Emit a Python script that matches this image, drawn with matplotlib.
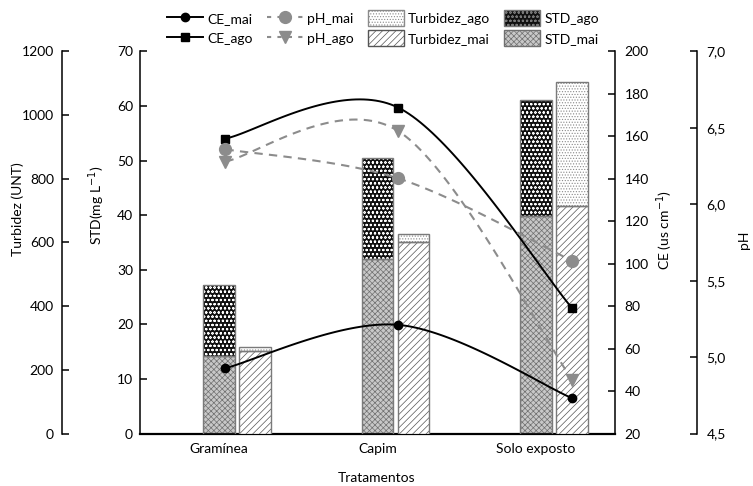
import numpy as np
import matplotlib
matplotlib.use('Agg')
import matplotlib.pyplot as plt
from matplotlib.patches import Patch
from matplotlib.lines import Line2D
from matplotlib.ticker import FuncFormatter

plt.rcParams['font.family'] = ['Lato', 'DejaVu Sans']
plt.rcParams['font.size'] = 10
plt.rcParams['hatch.linewidth'] = 0.5

# ── DATA ──
tratamentos = ['Gramínea', 'Capim', 'Solo exposto']
std_mai = [14.2, 32.0, 39.8]
std_ago = [13.0, 18.5, 21.4]        # stacked on top of std_mai
turb_mai = [259, 603, 715]
turb_ago = [14, 24, 390]            # stacked on top of turb_mai
ce_mai = [50.8, 71.2, 36.6]
ce_ago = [159, 173.6, 79]
ph_mai = [6.36, 6.17, 5.63]
ph_ago = [6.28, 6.48, 4.85]
line_x = [0.04, 1.13, 2.23]         # x position of the line markers

x = np.arange(len(tratamentos))
w = 0.2

W, H = 753, 486
fig = plt.figure(figsize=(W / 100, H / 100), dpi=100)
left, right, bot, top = 140, 615, 433.5, 51.5
ax = fig.add_axes([left / W, 1 - bot / H, (right - left) / W, (bot - top) / H])
ax_t = ax.twinx()
ax_ce = ax.twinx()
ax_ph = ax.twinx()

ax.set_xlim(-0.5, 2.5)
ax.set_ylim(0, 70)
ax_t.set_ylim(0, 1200)
ax_ce.set_ylim(20, 200)
ax_ph.set_ylim(4.5, 7.0)

edge = '#7a7a7a'


def hbar(a, xs, h, b, fc, hc, hatch):
    a.bar(xs, h, w, bottom=b, color=fc, edgecolor=hc, hatch=hatch,
          linewidth=0, zorder=2)
    a.bar(xs, h, w, bottom=b, fill=False, edgecolor=edge,
          linewidth=1, zorder=3)


# STD bars (stacked)
hbar(ax, x, std_mai, 0, '#c8c8c8', '#707070', 'xxxxxx')
hbar(ax, x, std_ago, std_mai, '#111111', 'white', 'oooo')

# Turbidez bars (stacked)
hbar(ax_t, x + 0.228, turb_mai, 0, 'white', '#555555', '/////')
hbar(ax_t, x + 0.228, turb_ago, turb_mai, 'white', '#8a8a8a', '......')


def smooth(a, xs, ys, n=50):
    # bezier smoothing through the points, computed in display space
    pts = a.transData.transform(np.column_stack([xs, ys]))
    out = []
    t = np.linspace(0, 1, n)[:, None]
    for i in range(len(pts) - 1):
        p0, p1 = pts[i], pts[i + 1]
        pm = pts[i - 1] if i > 0 else pts[i]
        pp = pts[i + 2] if i + 2 < len(pts) else pts[i + 1]
        c1 = p0 + (p1 - pm) / 6
        c2 = p1 - (pp - p0) / 6
        seg = ((1 - t) ** 3 * p0 + 3 * (1 - t) ** 2 * t * c1
               + 3 * (1 - t) * t ** 2 * c2 + t ** 3 * p1)
        out.append(seg if i == 0 else seg[1:])
    c = a.transData.inverted().transform(np.vstack(out))
    return c[:, 0], c[:, 1]


gray = '#8c8c8c'
# pH lines
for vals, mk in [(ph_mai, 'o'), (ph_ago, 'v')]:
    sx, sy = smooth(ax_ph, line_x, vals)
    ax_ph.plot(sx, sy, color=gray, lw=1.5, ls=(0, (4, 3)), zorder=4)
    ax_ph.plot(line_x, vals, ls='none', marker=mk, ms=8.5,
               color=gray, zorder=5)

# CE lines
for vals, mk, ms in [(ce_mai, 'o', 6), (ce_ago, 's', 6)]:
    sx, sy = smooth(ax_ce, line_x, vals)
    ax_ce.plot(sx, sy, color='black', lw=1.4, zorder=4)
    ax_ce.plot(line_x, vals, ls='none', marker=mk, ms=ms,
               color='black', zorder=5)

# ── AXES STYLING ──
for a in (ax, ax_t, ax_ce, ax_ph):
    for s in a.spines.values():
        s.set_visible(False)
        s.set_linewidth(1.1)

ax.spines['left'].set_visible(True)
ax.spines['bottom'].set_visible(True)
ax.spines['bottom'].set_linewidth(1.6)
ax.set_yticks(np.arange(0, 71, 10))
ax.tick_params(axis='y', direction='in', length=5, width=1.1, pad=5)
ax.set_xticks(x)
ax.set_xticklabels(tratamentos)
ax.tick_params(axis='x', direction='in', length=5, width=1.1, pad=7)

ax_t.spines['left'].set_visible(True)
ax_t.spines['left'].set_position(('outward', 56))
ax_t.yaxis.set_ticks_position('left')
ax_t.yaxis.set_label_position('left')
ax_t.set_yticks(np.arange(0, 1201, 200))
ax_t.tick_params(axis='y', direction='in', length=5, width=1.1, pad=6)

ax_ce.spines['right'].set_visible(True)
ax_ce.set_yticks(np.arange(20, 201, 20))
ax_ce.tick_params(axis='y', direction='in', length=5, width=1.1, pad=7)

ax_ph.spines['right'].set_visible(True)
ax_ph.spines['right'].set_position(('outward', 59))
ax_ph.set_yticks(np.arange(4.5, 7.01, 0.5))
ax_ph.yaxis.set_major_formatter(
    FuncFormatter(lambda v, p: f'{v:.1f}'.replace('.', ',')))
ax_ph.tick_params(axis='y', direction='in', length=5, width=1.1, pad=7)

# axis titles
fig.text(18 / W, 1 - 209 / H, 'Turbidez (UNT)', rotation=90,
         ha='center', va='center')
fig.text(97 / W, 1 - 205 / H, 'STD(mg L$^{-1}$)', rotation=90,
         ha='center', va='center')
fig.text(665 / W, 1 - 230 / H, 'CE (us cm$^{-1}$)', rotation=90,
         ha='center', va='center')
fig.text(744 / W, 1 - 240 / H, 'pH', rotation=90,
         ha='center', va='center')
fig.text(377 / W, 1 - 478 / H, 'Tratamentos', ha='center', va='center')

# ── LEGEND ──
handles = [
    Line2D([], [], color='black', marker='o', ms=6, lw=1.4),
    Line2D([], [], color='black', marker='s', ms=6, lw=1.4),
    Line2D([], [], color=gray, marker='o', ms=8.5, lw=1.5, ls=(0, (2, 3))),
    Line2D([], [], color=gray, marker='v', ms=8.5, lw=1.5, ls=(0, (2, 3))),
    Patch(facecolor='white', edgecolor='#8a8a8a', hatch='......'),
    Patch(facecolor='white', edgecolor='#555555', hatch='/////'),
    Patch(facecolor='#111111', edgecolor='#777777', hatch='oooo'),
    Patch(facecolor='#c8c8c8', edgecolor='#707070', hatch='xxxxxx'),
]
labels = ['CE_mai', 'CE_ago', 'pH_mai', 'pH_ago',
          'Turbidez_ago', 'Turbidez_mai', 'STD_ago', 'STD_mai']
fig.legend(handles, labels, ncol=4, frameon=False,
           loc='center left', bbox_to_anchor=(160 / W, 1 - 28 / H),
           handlelength=2.6, handleheight=1.3, handletextpad=0.3,
           columnspacing=1.0, labelspacing=0.35, borderpad=0)

fig.savefig('out.png', dpi=100)
